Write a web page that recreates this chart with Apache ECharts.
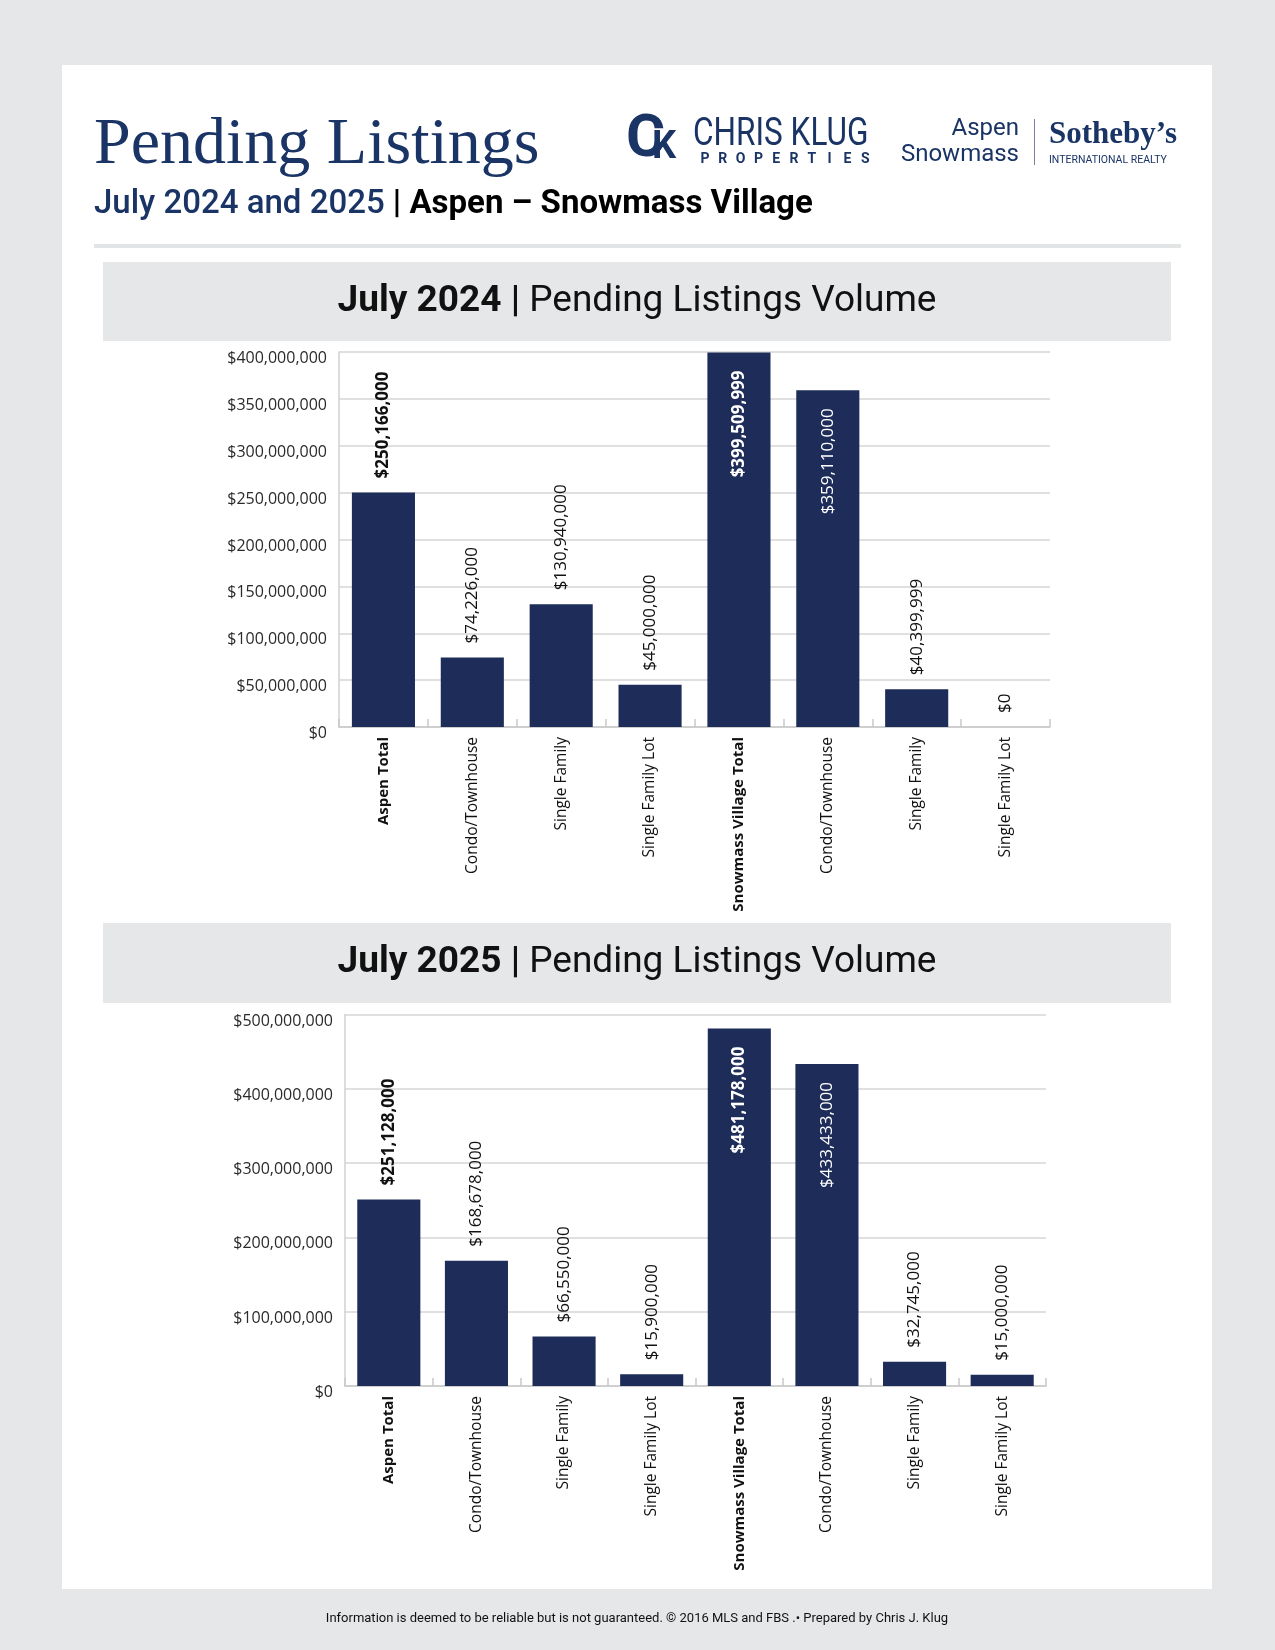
<!DOCTYPE html>
<html>
<head>
<meta charset="utf-8">
<script src="https://cdn.jsdelivr.net/npm/echarts@6/dist/echarts.min.js"></script>
<style>
  html, body { margin: 0; padding: 0; background: #e6e7e9; }
  #page { width: 1275px; height: 1650px; }
</style>
</head>
<body>
<div id="page"></div>
<script>
// ---- Data ----
const categories = ['Aspen Total', 'Condo/Townhouse', 'Single Family', 'Single Family Lot',
  'Snowmass Village Total', 'Condo/Townhouse', 'Single Family', 'Single Family Lot'];
const totalFlags = [true, false, false, false, true, false, false, false];
const values2024 = [250166000, 74226000, 130940000, 45000000, 399509999, 359110000, 40399999, 0];
const values2025 = [251128000, 168678000, 66550000, 15900000, 481178000, 433433000, 32745000, 15000000];
const yMax2024 = 400000000, yStep2024 = 50000000;
const yMax2025 = 500000000, yStep2025 = 100000000;
const chartTitles = ['July 2024', 'July 2025'];

// ---- Styling ----
const NAVY = '#1a3466';
const BAR = '#1d2c59';
const SANS = '"Open Sans", "Noto Sans", sans-serif';
const COND = 'Roboto, "Noto Sans", sans-serif';

function money(v) { return '$' + v.toLocaleString('en-US'); }

function buildData(values, yMax) {
  return values.map((v, i) => {
    const inside = v / yMax > 0.75;
    const bold = totalFlags[i];
    return {
      value: v,
      label: inside ? {
        show: true, position: 'insideTop', distance: 18, rotate: 90,
        align: 'right', verticalAlign: 'middle',
        color: '#ffffff', fontWeight: bold ? 'bold' : 'normal'
      } : {
        show: true, position: 'top', distance: 14, rotate: 90,
        align: 'left', verticalAlign: 'middle',
        color: '#111111', fontWeight: bold ? 'bold' : 'normal'
      }
    };
  });
}

const grids = [
  { left: 339, top: 352, width: 711, height: 375 },
  { left: 345, top: 1014.5, width: 701, height: 371.5 }
];

function xAxisCfg(gi) {
  return {
    type: 'category', gridIndex: gi, data: categories,
    axisLine: { show: true, lineStyle: { color: '#c9c9c9', width: 1.5 } },
    axisTick: { show: true, inside: true, length: 8, lineStyle: { color: '#c9c9c9', width: 1.5 } },
    axisLabel: {
      interval: 0, rotate: 90, margin: 10,
      formatter: (v, i) => totalFlags[i] ? '{b|' + v + '}' : '{n|' + v + '}',
      rich: {
        b: { fontFamily: SANS, fontSize: 15, fontWeight: 'bold', color: '#111' },
        n: { fontFamily: SANS, fontSize: 15.5, color: '#111' }
      }
    }
  };
}
function yAxisCfg(gi, max, step) {
  return {
    type: 'value', gridIndex: gi, min: 0, max: max, interval: step,
    axisLine: { show: true, lineStyle: { color: '#d0d0d0', width: 1.5 } },
    axisTick: { show: false },
    splitLine: { show: true, lineStyle: { color: '#d6d6d6', width: 1.5 } },
    axisLabel: {
      formatter: money, fontFamily: SANS, fontSize: 16, color: '#2a2a2a', margin: 12,
      verticalAlign: 'top', lineHeight: 13
    }
  };
}

function sectionTitle(year, cy) {
  return {
    type: 'text', x: 637, y: cy,
    style: {
      text: '{b|' + year + ' | }{n|Pending Listings Volume}',
      align: 'center', textAlign: 'center', verticalAlign: 'middle', textVerticalAlign: 'middle',
      rich: {
        b: { font: 'bold 37px ' + COND, fill: '#111', color: '#111' },
        n: { font: '37px ' + COND, fill: '#111', color: '#111' }
      }
    }
  };
}

const props = 'PROPERTIES'.split('');
const propLetters = props.map((ch, i) => ({
  type: 'text', x: 705 + i * 17.8, y: 159,
  style: { text: ch, font: 'bold 14px ' + COND, fill: NAVY, align: 'center', textAlign: 'center', verticalAlign: 'middle', textVerticalAlign: 'middle' }
}));

const graphic = [
  { type: 'rect', shape: { x: 0, y: 0, width: 1275, height: 1650 }, style: { fill: '#e6e7e9' }, z: -10 },
  { type: 'rect', shape: { x: 62, y: 65, width: 1150, height: 1524 }, style: { fill: '#ffffff' }, z: -9 },
  { type: 'rect', shape: { x: 94, y: 244, width: 1087, height: 4 }, style: { fill: '#e3e4e6' }, z: -8 },
  { type: 'rect', shape: { x: 103, y: 262, width: 1068, height: 79 }, style: { fill: '#e6e7e9' }, z: -8 },
  { type: 'rect', shape: { x: 103, y: 923, width: 1068, height: 80 }, style: { fill: '#e6e7e9' }, z: -8 },
  {
    type: 'text', x: 94, y: 146,
    style: { text: 'Pending Listings', font: '66px "Liberation Serif", "DejaVu Serif", serif', fill: NAVY, verticalAlign: 'middle', textVerticalAlign: 'middle' }
  },
  {
    type: 'text', x: 94, y: 205,
    style: {
      text: '{n|July 2024 and 2025 }{b|| Aspen – Snowmass Village}',
      verticalAlign: 'middle', textVerticalAlign: 'middle',
      rich: {
        n: { font: '500 33px ' + COND, fill: NAVY, color: NAVY },
        b: { font: 'bold 33px ' + COND, fill: '#000', color: '#000' }
      }
    }
  },
  // Chris Klug logo
  { type: 'text', x: 626, y: 141, style: { text: 'C', font: 'bold 60px ' + COND, fill: NAVY, verticalAlign: 'middle', textVerticalAlign: 'middle' } },
  { type: 'text', x: 652, y: 148, style: { text: 'K', font: 'bold 38px ' + COND, fill: NAVY, verticalAlign: 'middle', textVerticalAlign: 'middle' } },
  { type: 'text', x: 693, y: 135, scaleX: 0.83, originX: 0, originY: 0, style: { text: 'CHRIS KLUG', font: '38px ' + COND, fill: NAVY, verticalAlign: 'middle', textVerticalAlign: 'middle' } },
  ...propLetters,
  // Sotheby's logo
  { type: 'text', x: 1019, y: 129, style: { text: 'Aspen', font: '24px ' + COND, fill: NAVY, align: 'right', textAlign: 'right', verticalAlign: 'middle', textVerticalAlign: 'middle' } },
  { type: 'text', x: 1019, y: 155, style: { text: 'Snowmass', font: '24px ' + COND, fill: NAVY, align: 'right', textAlign: 'right', verticalAlign: 'middle', textVerticalAlign: 'middle' } },
  { type: 'rect', shape: { x: 1034, y: 119, width: 1, height: 46 }, style: { fill: '#7a8199' } },
  { type: 'text', x: 1049, y: 135, style: { text: 'Sotheby’s', font: 'bold 31px "Liberation Serif", serif', fill: NAVY, verticalAlign: 'middle', textVerticalAlign: 'middle' } },
  { type: 'text', x: 1049, y: 160, style: { text: 'INTERNATIONAL REALTY', font: '10.5px ' + COND, fill: NAVY, verticalAlign: 'middle', textVerticalAlign: 'middle' } },
  sectionTitle(chartTitles[0], 302),
  sectionTitle(chartTitles[1], 963),
  {
    type: 'text', x: 637, y: 1619,
    style: { text: 'Information is deemed to be reliable but is not guaranteed. © 2016 MLS and FBS .• Prepared by Chris J. Klug', font: '13px ' + COND, fill: '#111', align: 'center', textAlign: 'center', verticalAlign: 'middle', textVerticalAlign: 'middle' }
  }
];

const chart = echarts.init(document.getElementById('page'), null, { renderer: 'canvas', width: 1275, height: 1650 });
chart.setOption({
  animation: false,
  backgroundColor: '#e6e7e9',
  graphic: graphic,
  grid: grids,
  xAxis: [xAxisCfg(0), xAxisCfg(1)],
  yAxis: [yAxisCfg(0, yMax2024, yStep2024), yAxisCfg(1, yMax2025, yStep2025)],
  series: [
    {
      type: 'bar', xAxisIndex: 0, yAxisIndex: 0, data: buildData(values2024, yMax2024),
      barCategoryGap: '29%', itemStyle: { color: BAR },
      label: { fontFamily: SANS, fontSize: 17, formatter: p => money(p.value) }
    },
    {
      type: 'bar', xAxisIndex: 1, yAxisIndex: 1, data: buildData(values2025, yMax2025),
      barCategoryGap: '28%', itemStyle: { color: BAR },
      label: { fontFamily: SANS, fontSize: 17, formatter: p => money(p.value) }
    }
  ]
});
</script>
</body>
</html>
